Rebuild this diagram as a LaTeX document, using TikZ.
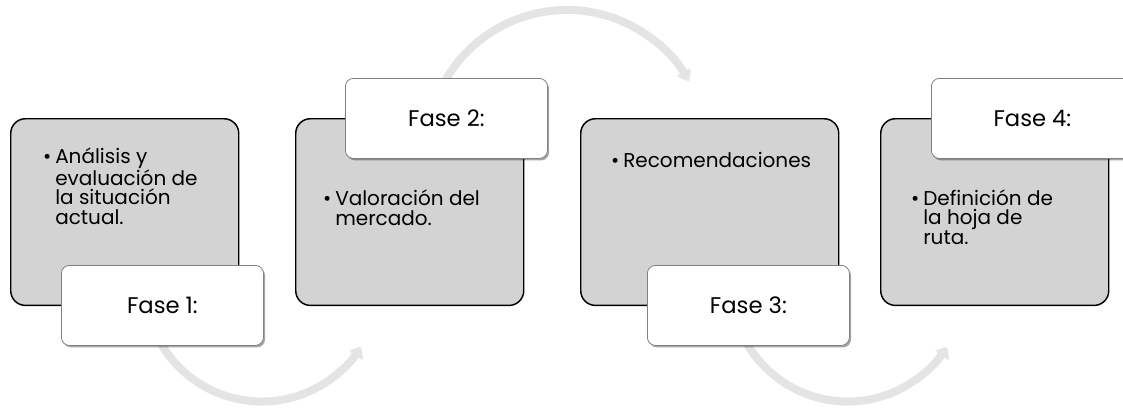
\documentclass[tikz,border=0pt]{standalone}
\usepackage{fontspec}
\setmainfont{Poppins}
\usetikzlibrary{arrows.meta,shadows,backgrounds}

\definecolor{faseborde}{RGB}{128,128,128}
\definecolor{cajagris}{RGB}{211,211,211}
\definecolor{flecha}{RGB}{228,228,228}

\tikzset{
	caja/.style={draw=black, fill=cajagris, line width=1.1pt, rounded corners=11pt, inner sep=0pt, anchor=north west, minimum width=171pt, minimum height=140pt},
	fase/.style={draw=faseborde, fill=white, line width=0.6pt, rounded corners=6pt, inner sep=0pt, anchor=north west, minimum width=151.5pt, minimum height=60pt, font=\fontsize{17}{20}\selectfont, drop shadow={shadow xshift=1.2pt, shadow yshift=-1.5pt, opacity=0.35, fill=black}},
	texto/.style={anchor=base west, align=left, inner sep=0pt, font=\fontsize{15}{14.3}\selectfont},
	giro/.style={draw=flecha, line width=6pt, -{Triangle[width=11pt, length=7pt]}, preaction={draw=black!9, transform canvas={xshift=0.8pt, yshift=-1.2pt}}}
}

\newcommand{\punto}{\llap{\textbullet\hspace{3pt}}}

\begin{document}
\begin{tikzpicture}[x=0.75pt, y=-0.75pt]
	\useasboundingbox (0,0) rectangle (1123,408);
	
	\node [caja] (g1) at (10,118) {};
	\node [caja] (g2) at (295,118) {};
	\node [caja, minimum width=193.5pt] (g3) at (580,118) {};
	\node [caja] (g4) at (880,118) {};
	
	\node [texto] (t1) at (55,224) {\punto Análisis y\\evaluación de\\la situación\\actual.};
	\node [texto] (t2) at (335,225) {\punto Valoración del\\mercado.};
	\node [texto] (t3) at (623,167) {\punto Recomendaciones};
	\node [texto] (t4) at (923,244) {\punto Definición de\\la hoja de\\ruta.};
	
	\node [fase] (f1) at (61,265) {Fase 1:};
	\node [fase] (f2) at (345,78) {Fase 2:};
	\node [fase] (f3) at (647,265) {Fase 3:};
	\node [fase] (f4) at (931,78) {Fase 4:};
	
	\begin{scope}[on background layer]
		\draw [giro] ([xshift=-2.7pt, yshift=4.6pt]f1.south) arc [start angle=152, end angle=32, radius=116.6];
		\draw [giro] ([xshift=-4.8pt, yshift=-9.6pt]f2.north) arc [start angle=205, end angle=330, radius=140];
		\draw [giro] ([xshift=-2.7pt, yshift=4.6pt]f3.south) arc [start angle=152, end angle=32, radius=116.6];
	\end{scope}
\end{tikzpicture}
\end{document}
